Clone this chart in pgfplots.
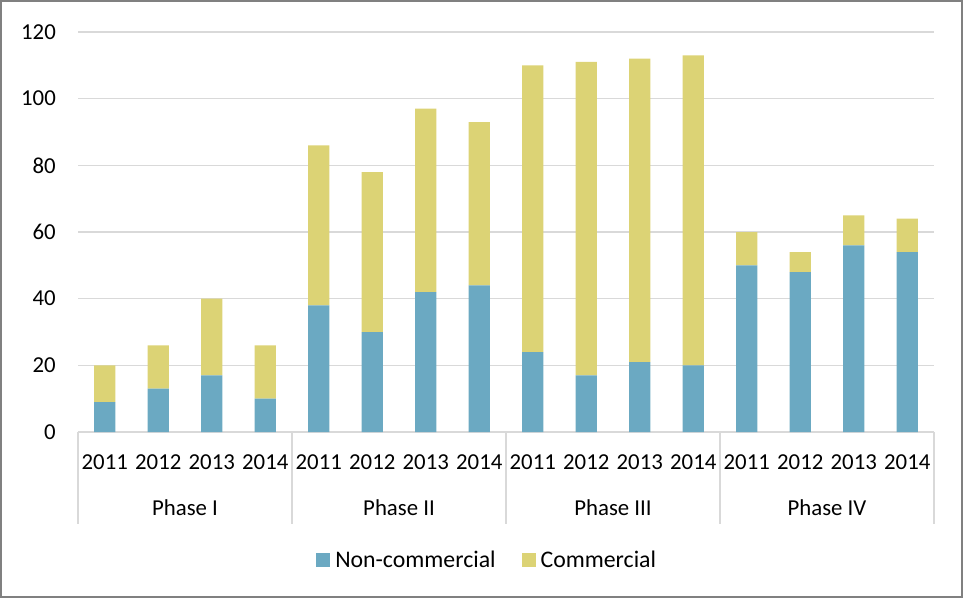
\documentclass[border=0pt]{standalone}
\usepackage{fontspec}
\setmainfont{Carlito}
\usepackage{pgfplots}
\pgfplotsset{compat=1.18}
\definecolor{ncblue}{RGB}{107,169,194}
\definecolor{cyellow}{RGB}{220,211,117}
\definecolor{gridgray}{RGB}{217,217,217}
\definecolor{framegray}{RGB}{128,128,128}
\begin{document}
\begin{tikzpicture}[x=1pt,y=1pt]
\useasboundingbox (0,0) rectangle (963,598);
\draw[framegray,line width=1.3pt] (1,1) rectangle (962,597);
\begin{axis}[
  at={(78pt,166pt)}, anchor=south west,
  scale only axis, width=856pt, height=400pt,
  xmin=-0.5, xmax=15.5, ymin=0, ymax=120,
  enlargelimits=false,
  ybar stacked, bar width=21.4pt,
  axis line style={draw=none},
  ymajorgrids, grid style={gridgray,line width=1.3pt},
  major tick length=0pt,
  ytick={0,20,...,120},
  xtick={0,...,15},
  xticklabels={2011,2012,2013,2014,2011,2012,2013,2014,2011,2012,2013,2014,2011,2012,2013,2014},
  /pgf/number format/assume math mode=true,
  ticklabel style={font=\fontsize{22.8}{27}\selectfont, inner sep=0pt},
  yticklabel style={anchor=east, xshift=-22pt},
  xticklabel style={anchor=center, yshift=-30pt},
  legend style={at={(0.478,-0.32)}, anchor=center, draw=none, fill=none,
    font=\fontsize{23.8}{28}\selectfont, legend columns=2,
    /tikz/every even column/.append style={column sep=24pt},
    inner sep=0pt},
  legend image code/.code={\fill[#1] (0pt,-7pt) rectangle (14pt,7pt); \path (17pt,0pt);},
  clip=false,
]
\addplot[fill=ncblue, draw=none] coordinates {
 (0,9) (1,13) (2,17) (3,10)
 (4,38) (5,30) (6,42) (7,44)
 (8,24) (9,17) (10,21) (11,20)
 (12,50) (13,48) (14,56) (15,54)};
\addplot[fill=cyellow, draw=none] coordinates {
 (0,11) (1,13) (2,23) (3,16)
 (4,48) (5,48) (6,55) (7,49)
 (8,86) (9,94) (10,91) (11,93)
 (12,10) (13,6) (14,9) (15,10)};
\legend{Non-commercial,Commercial}
\pgfplotsinvokeforeach{-0.5,3.5,7.5,11.5,15.5}{
  \draw[gridgray,line width=1.3pt] (axis cs:#1,0) -- ([yshift=-92pt]axis cs:#1,0);
}
\node[font=\fontsize{22.8}{27}\selectfont, anchor=center, yshift=-76pt] at (axis cs:1.5,0) {Phase I};
\node[font=\fontsize{22.8}{27}\selectfont, anchor=center, yshift=-76pt] at (axis cs:5.5,0) {Phase II};
\node[font=\fontsize{22.8}{27}\selectfont, anchor=center, yshift=-76pt] at (axis cs:9.5,0) {Phase III};
\node[font=\fontsize{22.8}{27}\selectfont, anchor=center, yshift=-76pt] at (axis cs:13.5,0) {Phase IV};
\end{axis}
\end{tikzpicture}
\end{document}
